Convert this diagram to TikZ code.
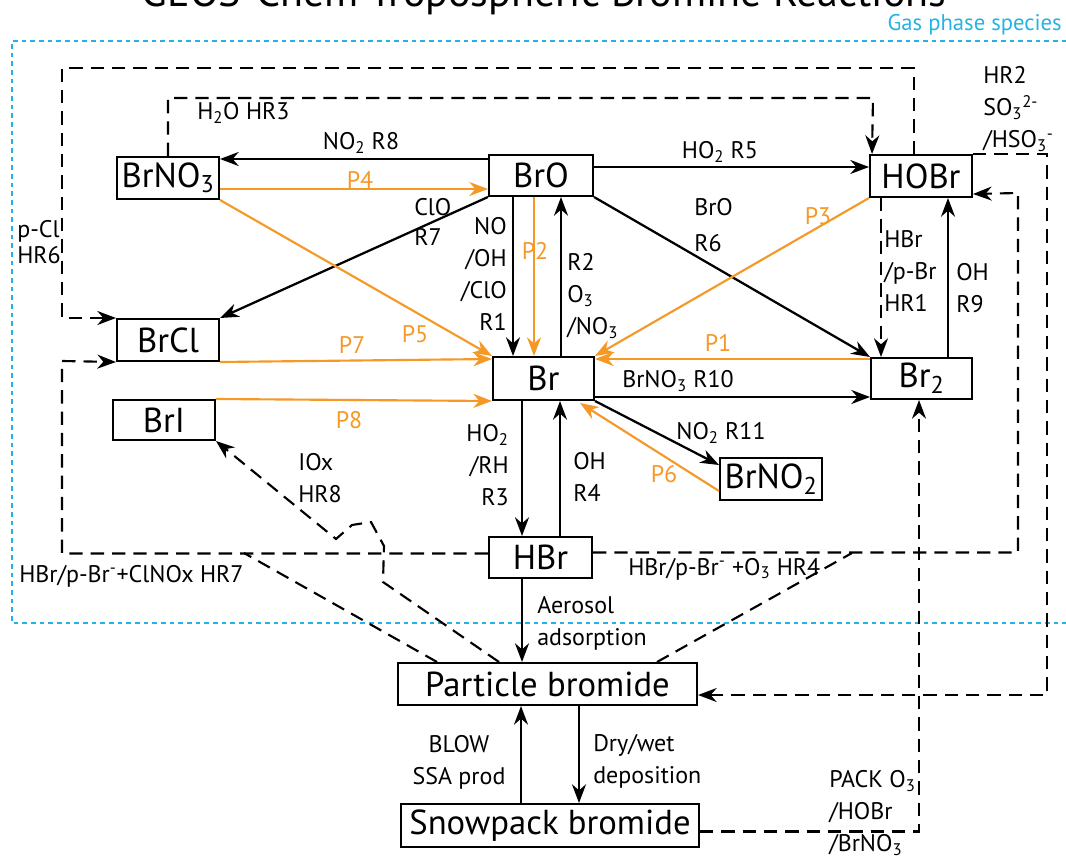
\documentclass[tikz,border=0pt]{standalone}
\usepackage{fontspec}
\setmainfont{PT Sans}
\usetikzlibrary{arrows.meta,calc}
\definecolor{orng}{RGB}{245,152,38}
\definecolor{cyanb}{RGB}{38,178,228}
\tikzset{
  bx/.style={draw=black, line width=1.5pt, inner sep=0pt, font=\fontsize{26}{30}\selectfont},
  lab/.style={inner sep=0pt, font=\fontsize{18}{24}\selectfont, align=left},
  olab/.style={lab, text=orng},
  tip/.style={-{Stealth[length=14pt,width=10.5pt,inset=4.5pt]}},
  conn/.style={line width=1.7pt, tip},
  oconn/.style={line width=1.6pt, draw=orng, tip},
  dline/.style={line width=1.6pt, dash pattern=on 10pt off 6pt},
  dconn/.style={dline, tip},
  bluedot/.style={draw=cyanb, line width=2.2pt, dash pattern=on 3.5pt off 3pt}
}
\begin{document}
\begin{tikzpicture}[x=0.75pt,y=-0.75pt]
\useasboundingbox (0,0) rectangle (1066,859);

% title and gas phase frame
\node[font=\fontsize{31.5}{36}\selectfont, anchor=base, inner sep=0pt] (title) at (544,7) {GEOS-Chem Tropospheric Bromine Reactions};
\draw[bluedot] (1075,41) -- (12,41) -- (12,623) -- (1075,623);
\node[inner sep=0pt, anchor=east, text=cyanb, font=\fontsize{17}{20}\selectfont] (gas) at (1062,25) {Gas phase species};

% boxes
\node[bx, minimum width=76.5pt, minimum height=31.5pt] (brno3) at (168,178) {BrNO\textsubscript{3}};
\node[bx, minimum width=78pt, minimum height=30.75pt] (bro) at (541,175.5) {BrO};
\node[bx, minimum width=76.5pt, minimum height=31.5pt] (hobr) at (921,176) {HOBr};
\node[bx, minimum width=76.5pt, minimum height=31.5pt] (brcl) at (168,340) {BrCl};
\node[bx, minimum width=75.75pt, minimum height=32.25pt] (br) at (543.5,378.5) {Br};
\node[bx, minimum width=75.75pt, minimum height=30.75pt] (br2) at (921.5,378.5) {Br\textsubscript{2}};
\node[bx, minimum width=76.5pt, minimum height=30pt] (bri) at (164,420) {BrI};
\node[bx, minimum width=76.5pt, minimum height=31.5pt] (brno2) at (771,479) {BrNO\textsubscript{2}};
\node[bx, minimum width=77.25pt, minimum height=30.75pt] (hbr) at (540.5,557.5) {HBr};
\node[bx, minimum width=224.25pt, minimum height=31.5pt] (part) at (547.5,684) {Particle bromide};
\node[bx, minimum width=223.5pt, minimum height=32.25pt] (snow) at (550,825.5) {Snowpack bromide};

% helper coordinates
\coordinate (c1) at (62,68);
\coordinate (c2) at (873,98);
\coordinate (c3) at (1047,695);
\coordinate (c4) at (1018,193);
\coordinate (c5) at (852,553);
\coordinate (c6) at (62,361);
\coordinate (c7) at (244,553);
\coordinate (h1) at (383,582);
\coordinate (h2) at (384,546);
\coordinate (h3) at (371,522);
\coordinate (h4) at (352,525);
\coordinate (h5) at (336,539);

% solid black reactions
\draw[conn] ($(bro.north west)+(0,5)$) -- ($(brno3.north east)+(0,3)$);
\draw[conn] ($(bro.north east)+(0,13)$) -- ($(hobr.north west)+(0,13)$);
\draw[conn] (bro.south west) -- (brcl.north east);
\draw[conn] ($(bro.south west)+(25,0)$) -- ($(br.north west)+(21,0)$);
\draw[conn] ($(br.north west)+(69,0)$) -- ($(bro.south west)+(73,0)$);
\draw[conn] (bro.south east) -- (br2.north west);
\draw[conn] ($(br.south east)+(0,-4)$) -- ($(br2.south west)+(0,-3)$);
\draw[conn] ($(br2.north west)+(78,0)$) -- ($(hobr.south west)+(79,0)$);
\draw[conn] (br.south east) -- ($(brno2.north west)+(0,8)$);
\draw[conn] ($(br.south west)+(30,0)$) -- ($(hbr.north west)+(34,0)$);
\draw[conn] ($(hbr.north west)+(72,0)$) -- ($(br.south west)+(68,0)$);
\draw[conn] ($(hbr.south west)+(34,0)$) -- ($(part.north west)+(125,0)$);
\draw[conn] ($(snow.north west)+(121,0)$) -- ($(part.south west)+(124,0)$);
\draw[conn] ($(part.south west)+(182,0)$) -- ($(snow.north west)+(179,0)$);

% orange photolysis
\draw[oconn] ($(brno3.north east)+(0,33)$) -- ($(bro.north west)+(0,35)$);
\draw[oconn] (brno3.south east) -- (br.north west);
\draw[oconn] (brcl.south east) -- ($(br.north west)+(0,3)$);
\draw[oconn] (bri.north east) -- (br.south west);
\draw[oconn] ($(bro.south west)+(46,0)$) -- ($(br.north west)+(42,0)$);
\draw[oconn] (hobr.south west) -- (br.north east);
\draw[oconn] ($(br2.north west)+(0,2)$) -- ($(br.north east)+(0,3)$);
\draw[oconn] ($(brno2.south west)+(0,-10)$) -- ($(br.south east)+(-15,2)$);

% dashed heterogeneous
\draw[dconn] ($(hobr.north west)+(45,0)$) |- (c1) |- (brcl.north west);
\draw[dconn] ($(brno3.north west)+(52,0)$) |- (c2) -- ($(hobr.north west)+(3,0)$);
\draw[dconn] (hobr.north east) -| (c3) -- ($(part.east)+(0,11)$);
\draw[dconn] ($(hbr.east)+(0,-5)$) -| (c4) -- ($(hobr.south east)+(0,-4)$);
\draw[dline] ($(part.north west)+(260,0)$) -- (c5);
\draw[dconn] ($(hbr.west)+(0,-4)$) -| (c6) -- (brcl.south west);
\draw[dline] ($(part.north west)+(40,0)$) -- (c7);
\draw[dconn] ($(part.north west)+(102,0)$) -- (h1) -- (h2) -- (h3) -- (h4) -- (h5) -- (bri.south east);
\draw[dconn] ($(hobr.south west)+(12,0)$) -- ($(br2.north west)+(11,0)$);
\draw[dconn] ($(snow.east)+(0,6)$) -| ($(br2.south west)+(49,0)$);

% labels
\node[lab] (lR8) at (361,143) {NO\textsubscript{2} R8};
\node[olab] (lP4) at (360,180) {P4};
\node[lab, anchor=west] (lHR3) at (197,113) {H\textsubscript{2}O HR3};
\node[lab] (lR5) at (720,152) {HO\textsubscript{2} R5};
\node[lab, anchor=west] (lR7) at (414,222) {ClO\\[-2pt]R7};
\node[lab, anchor=east, align=right] (lR1) at (507,274) {NO\\/OH\\/ClO\\R1};
\node[olab] (lP2) at (535,251) {P2};
\node[lab, anchor=west] (lR2) at (567,296) {R2\\O\textsubscript{3}\\/NO\textsubscript{3}};
\node[lab, anchor=west] (lR6) at (694,225) {BrO\\[3pt]R6};
\node[olab] (lP3) at (818,216) {P3};
\node[olab] (lP1) at (718,343) {P1};
\node[lab] (lR10) at (678,381) {BrNO\textsubscript{3} R10};
\node[lab, anchor=west] (lHR1) at (884,271) {HBr\\/p-Br\\HR1};
\node[lab, anchor=west] (lR9) at (956,288) {OH\\R9};
\node[lab, anchor=west] (lHR2) at (983,109) {HR2\\SO\textsubscript{3}\textsuperscript{2-}\\/HSO\textsubscript{3}\textsuperscript{-}};
\node[lab, anchor=west] (lHR6) at (17,242) {p-Cl\\[-5pt]HR6};
\node[olab] (lP5) at (415,334) {P5};
\node[olab] (lP7) at (352,345) {P7};
\node[olab] (lP8) at (349,420) {P8};
\node[lab, anchor=west] (lHR8) at (298,478) {IOx\\HR8};
\node[lab, anchor=east, align=right] (lR3) at (509,465) {HO\textsubscript{2}\\/RH\\R3};
\node[lab, anchor=west] (lR4) at (573,477) {OH\\R4};
\node[lab] (lR11) at (721,433) {NO\textsubscript{2} R11};
\node[olab] (lP6) at (664,474) {P6};
\node[lab, anchor=west] (lHR7) at (19,576) {HBr/p-Br\textsuperscript{-}+ClNOx HR7};
\node[lab, anchor=west] (lHR4) at (628,569) {HBr/p-Br\textsuperscript{-} +O\textsubscript{3} HR4};
\node[lab, anchor=west] (lAer) at (537,623) {Aerosol\\adsorption};
\node[lab, align=center] (lBLOW) at (459,762) {BLOW\\SSA prod};
\node[lab, anchor=west] (lDry) at (593,761) {Dry/wet\\deposition};
\node[lab, anchor=west] (lPACK) at (829,813) {PACK O\textsubscript{3}\\/HOBr\\/BrNO\textsubscript{3}};
\end{tikzpicture}
\end{document}
